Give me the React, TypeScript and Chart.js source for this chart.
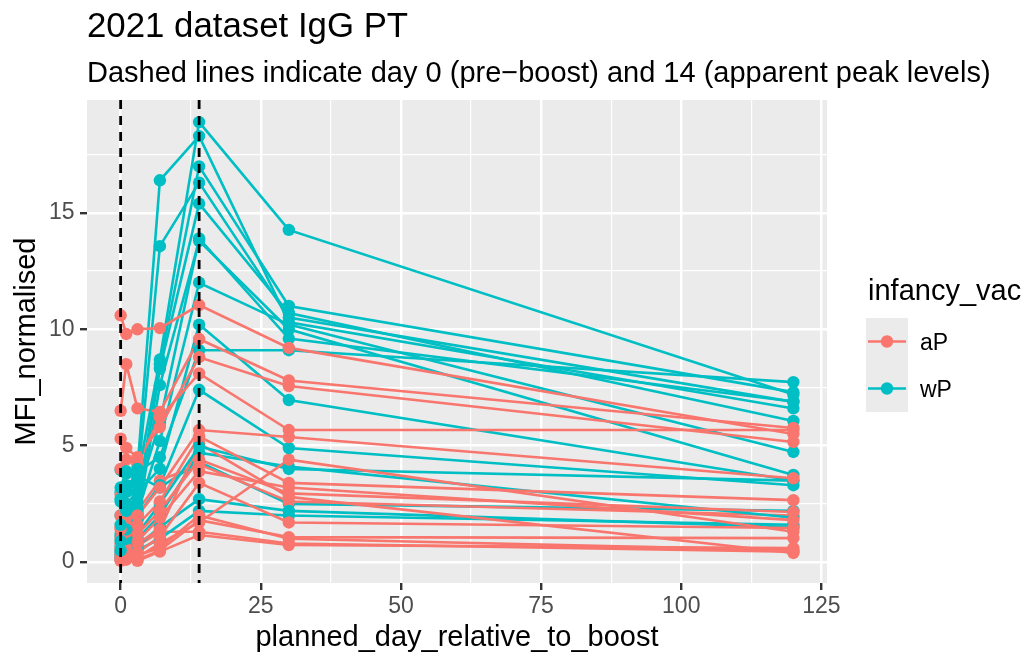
import React, { useEffect, useRef } from "react";
import { Chart, registerables } from "chart.js";

Chart.register(...registerables);

// ---- data ----
const DAYS = [0, 1, 3, 7, 14, 30, 120];

// aP subjects: values at DAYS
const AP_VALUES: number[][] = [
  [10.6, 9.8, 10.0, 10.05, 11.04, 9.2, 5.5],
  [6.5, 8.5, 6.6, 6.45, 9.58, 7.8, 5.76],
  [5.3, 4.9, 4.5, 5.8, 8.8, 7.56, 5.16],
  [4.0, 4.4, 4.2, 6.2, 8.1, 5.67, 5.67],
  [1.4, 1.9, 2.0, 3.2, 5.67, 5.37, 3.6],
  [1.0, 1.3, 1.6, 2.6, 5.4, 3.4, 2.66],
  [2.0, 1.6, 1.2, 2.2, 4.4, 2.95, 2.15],
  [0.8, 0.6, 0.9, 1.9, 3.9, 3.2, 1.8],
  [0.3, 0.5, 0.4, 1.1, 3.4, 1.7, 1.46],
  [0.1, 0.2, 0.1, 0.5, 1.8, 1.07, 1.03],
  [0.05, 0.1, 0.05, 0.45, 1.16, 0.73, 0.6],
  [0.5, 0.3, 0.2, 0.8, 1.7, 4.4, 1.3],
  [1.5, 1.1, 0.8, 1.4, 5.1, 2.8, 0.39],
  [0.2, 0.4, 0.3, 0.6, 2.0, 1.0, 0.5],
  [2.9, 2.5, 2.2, 3.5, 4.2, 2.6, 2.0],
  [0.6, 0.9, 0.7, 1.3, 1.3, 0.8, 0.45],
];

// wP subjects: values at DAYS
const WP_VALUES: number[][] = [
  [2.7, 3.2, 3.6, 8.7, 18.9, 14.27, 7.2],
  [3.2, 3.9, 4.0, 16.4, 18.3, 10.3, 6.6],
  [2.6, 3.0, 3.4, 13.57, 16.3, 10.5, 6.88],
  [1.6, 2.2, 2.6, 8.5, 17.0, 11.0, 7.3],
  [0.9, 1.4, 2.3, 8.3, 15.4, 10.7, 6.06],
  [0.5, 1.0, 1.8, 7.6, 13.8, 10.0, 3.74],
  [1.2, 1.8, 2.9, 6.0, 13.9, 9.6, 6.9],
  [0.7, 1.2, 2.1, 5.2, 12.0, 10.2, 4.73],
  [3.95, 3.8, 3.9, 4.5, 9.1, 9.1, 7.73],
  [2.0, 2.5, 3.0, 4.0, 10.2, 6.96, 3.5],
  [1.1, 1.5, 2.0, 3.3, 7.4, 4.9, 3.3],
  [0.4, 0.8, 1.2, 2.5, 4.96, 4.0, 3.5],
  [0.3, 0.6, 1.0, 2.0, 4.7, 4.1, 1.9],
  [0.2, 0.4, 0.7, 1.5, 2.7, 2.2, 1.5],
  [0.1, 0.3, 0.5, 1.0, 2.2, 2.0, 1.6],
  [3.0, 3.3, 3.7, 3.2, 4.3, 2.5, 2.2],
];

const GROUP_LABELS = ["aP", "wP"];
const GROUP_COLORS = ["#F8766D", "#00BFC4"];
const X_MAJOR_TICKS = [0, 25, 50, 75, 100, 125];
const Y_MAJOR_TICKS = [0, 5, 10, 15];
const X_LIMITS = [-6, 126];
const Y_LIMITS = [-0.9, 19.85];
const REF_DAYS = [0, 14];

const TITLE = "2021 dataset IgG PT";
const SUBTITLE = "Dashed lines indicate day 0 (pre\u2212boost) and 14 (apparent peak levels)";
const X_TITLE = "planned_day_relative_to_boost";
const Y_TITLE = "MFI_normalised";
const LEGEND_TITLE = "infancy_vac";

const FONT = "'Liberation Sans', Arial, sans-serif";
const LINE_W = 2.6;
const POINT_R = 6.2;

function withMinors(majors: number[], max: number): number[] {
  const step = majors[1] - majors[0];
  const out: number[] = [];
  majors.forEach((m) => {
    out.push(m);
    if (m + step / 2 <= max) out.push(m + step / 2);
  });
  return out;
}

const isMajor = (v: number, majors: number[]) => majors.some((m) => Math.abs(m - v) < 1e-9);

export default function App() {
  const ref = useRef<HTMLCanvasElement | null>(null);

  useEffect(() => {
    document.body.style.margin = "0";
    const canvas = ref.current;
    if (!canvas) return;

    const subjects: { group: number; vals: number[] }[] = [];
    const n = Math.max(AP_VALUES.length, WP_VALUES.length);
    for (let i = 0; i < n; i++) {
      if (AP_VALUES[i]) subjects.push({ group: 0, vals: AP_VALUES[i] });
      if (WP_VALUES[i]) subjects.push({ group: 1, vals: WP_VALUES[i] });
    }
    const toData = (vals: number[]) => DAYS.map((d, k) => ({ x: d, y: vals[k] }));

    const lineSets = subjects.map((s) => ({
      data: toData(s.vals),
      showLine: true,
      borderColor: GROUP_COLORS[s.group],
      backgroundColor: GROUP_COLORS[s.group],
      borderWidth: LINE_W,
      pointRadius: 0,
      pointHoverRadius: 0,
      order: 2,
    }));
    const pointSets = subjects.map((s) => ({
      data: toData(s.vals),
      showLine: false,
      backgroundColor: GROUP_COLORS[s.group],
      borderColor: GROUP_COLORS[s.group],
      pointRadius: POINT_R,
      pointBorderWidth: 0,
      pointHoverRadius: POINT_R,
      order: 1,
    }));

    const xTicks = withMinors(X_MAJOR_TICKS, X_LIMITS[1]);
    const yTicks = withMinors(Y_MAJOR_TICKS, Y_LIMITS[1]);

    const ggPlugin = {
      id: "gg",
      beforeDraw(chart: any) {
        const { ctx, chartArea: a } = chart;
        ctx.save();
        ctx.fillStyle = "#FFFFFF";
        ctx.fillRect(0, 0, chart.width, chart.height);
        ctx.fillStyle = "#EBEBEB";
        ctx.fillRect(a.left, a.top, a.right - a.left, a.bottom - a.top);
        ctx.restore();
      },
      afterDatasetsDraw(chart: any) {
        const { ctx, chartArea: a, scales } = chart;
        ctx.save();
        ctx.beginPath();
        ctx.rect(a.left, a.top, a.right - a.left, a.bottom - a.top);
        ctx.clip();
        ctx.strokeStyle = "#000000";
        ctx.lineWidth = 2.8;
        ctx.setLineDash([9, 7]);
        REF_DAYS.forEach((d) => {
          const x = scales.x.getPixelForValue(d);
          ctx.beginPath();
          ctx.moveTo(x, a.top);
          ctx.lineTo(x, a.bottom);
          ctx.stroke();
        });
        ctx.restore();
      },
      afterDraw(chart: any) {
        const { ctx, chartArea: a } = chart;
        ctx.save();
        ctx.fillStyle = "#000000";
        ctx.textBaseline = "alphabetic";
        ctx.textAlign = "left";
        ctx.font = `34.8px ${FONT}`;
        ctx.fillText(TITLE, a.left, 37);
        ctx.font = `29px ${FONT}`;
        ctx.fillText(SUBTITLE, a.left, 82);

        ctx.textAlign = "center";
        ctx.fillText(X_TITLE, (a.left + a.right) / 2, 646);

        ctx.save();
        ctx.translate(35, (a.top + a.bottom) / 2);
        ctx.rotate(-Math.PI / 2);
        ctx.fillText(Y_TITLE, 0, 0);
        ctx.restore();

        // legend
        ctx.textAlign = "left";
        ctx.fillText(LEGEND_TITLE, 868, 300);
        const kx = 866, kw = 42, kh = 47, ky0 = 318;
        GROUP_LABELS.forEach((lab, k) => {
          const ky = ky0 + k * kh;
          ctx.fillStyle = "#EBEBEB";
          ctx.fillRect(kx, ky, kw, kh);
          const cy = ky + kh / 2;
          ctx.strokeStyle = GROUP_COLORS[k];
          ctx.lineWidth = LINE_W;
          ctx.beginPath();
          ctx.moveTo(kx + 2, cy);
          ctx.lineTo(kx + kw - 2, cy);
          ctx.stroke();
          ctx.fillStyle = GROUP_COLORS[k];
          ctx.beginPath();
          ctx.arc(kx + kw / 2, cy, POINT_R, 0, Math.PI * 2);
          ctx.fill();
          ctx.fillStyle = "#000000";
          ctx.font = `23px ${FONT}`;
          ctx.fillText(lab, 920, cy + 8.2);
        });
        ctx.restore();
      },
    };

    const chart = new Chart(canvas, {
      type: "scatter",
      data: { datasets: [...lineSets, ...pointSets] as any },
      options: {
        animation: false,
        responsive: false,
        devicePixelRatio: 1,
        events: [],
        layout: { padding: { left: 0, top: 100, right: 200, bottom: 0 } },
        plugins: {
          legend: { display: false },
          tooltip: { enabled: false },
          title: { display: false },
        },
        scales: {
          x: {
            type: "linear",
            min: X_LIMITS[0],
            max: X_LIMITS[1],
            afterBuildTicks: (s: any) => {
              s.ticks = xTicks.map((v) => ({ value: v }));
            },
            afterFit: (s: any) => {
              s.height = 73;
            },
            border: { display: false },
            grid: {
              color: "#FFFFFF",
              lineWidth: (c: any) => (isMajor(c.tick.value, X_MAJOR_TICKS) ? 2.4 : 1.2),
              tickColor: (c: any) => (isMajor(c.tick.value, X_MAJOR_TICKS) ? "#333333" : "rgba(0,0,0,0)"),
              tickLength: 7,
              tickWidth: 2.4,
            },
            ticks: {
              autoSkip: false,
              maxRotation: 0,
              padding: 3,
              color: "#4D4D4D",
              font: { family: FONT, size: 23 },
              callback: (v: any) => (isMajor(Number(v), X_MAJOR_TICKS) ? String(v) : ""),
            },
          },
          y: {
            type: "linear",
            min: Y_LIMITS[0],
            max: Y_LIMITS[1],
            afterBuildTicks: (s: any) => {
              s.ticks = yTicks.map((v) => ({ value: v }));
            },
            afterFit: (s: any) => {
              s.width = 87;
            },
            border: { display: false },
            grid: {
              color: "#FFFFFF",
              lineWidth: (c: any) => (isMajor(c.tick.value, Y_MAJOR_TICKS) ? 2.4 : 1.2),
              tickColor: (c: any) => (isMajor(c.tick.value, Y_MAJOR_TICKS) ? "#333333" : "rgba(0,0,0,0)"),
              tickLength: 7,
              tickWidth: 2.4,
            },
            ticks: {
              autoSkip: false,
              padding: 5.5,
              color: "#4D4D4D",
              font: { family: FONT, size: 23 },
              callback: (v: any) => (isMajor(Number(v), Y_MAJOR_TICKS) ? String(v) : ""),
            },
          },
        },
      },
      plugins: [ggPlugin],
    });

    return () => chart.destroy();
  }, []);

  return (
    <div style={{ width: 1027, height: 656 }}>
      <canvas ref={ref} width={1027} height={656} style={{ display: "block", width: 1027, height: 656 }} />
    </div>
  );
}
